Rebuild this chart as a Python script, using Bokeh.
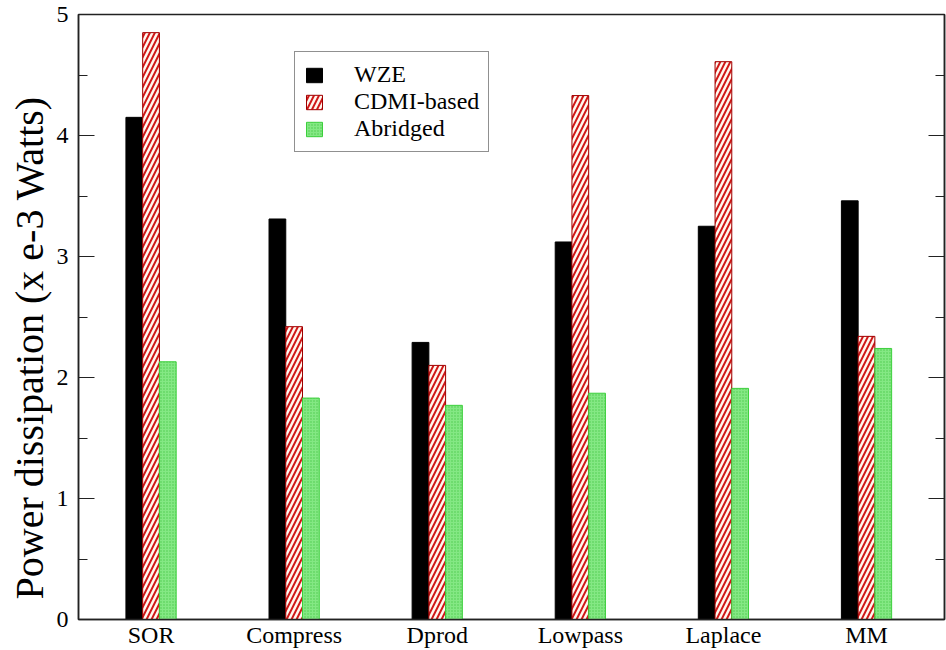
from bokeh.plotting import figure
from bokeh.models import (Range1d, SingleIntervalTicker, FixedTicker, LinearAxis,
                          ColumnDataSource, Title)
from bokeh.transform import dodge
from bokeh.embed import file_html
from bokeh.resources import INLINE

categories = ["SOR", "Compress", "Dprod", "Lowpass", "Laplace", "MM"]
wze = [4.15, 3.31, 2.29, 3.12, 3.25, 3.46]
cdmi = [4.85, 2.42, 2.10, 4.33, 4.61, 2.34]
abridged = [2.13, 1.83, 1.77, 1.87, 1.91, 2.24]
positions = list(range(len(categories)))
y_ticks = [0, 1, 2, 3, 4, 5]

FONT = "Liberation Serif"

src = ColumnDataSource(dict(x=positions, wze=wze, cdmi=cdmi, abridged=abridged))

p = figure(width=946, height=650, x_range=Range1d(-0.507, 5.545), y_range=Range1d(0, 5),
           output_backend="svg", toolbar_location=None,
           min_border_left=78, min_border_right=2, min_border_top=14, min_border_bottom=30)

bw = 0.117
p.vbar(x=dodge("x", -bw, range=p.x_range), top="wze", width=bw, source=src,
       fill_color="black", line_color="black", legend_label="WZE")
p.vbar(x=dodge("x", 0, range=p.x_range), top="cdmi", width=bw, source=src,
       fill_color="#d01818", line_color="#a00000", line_width=1,
       hatch_pattern="right_diagonal_line", hatch_color="#fff8f0", hatch_scale=10,
       hatch_weight=2.5, legend_label="CDMI-based")
p.vbar(x=dodge("x", bw, range=p.x_range), top="abridged", width=bw, source=src,
       fill_color="#84e884", line_color="#3ccf3c", line_width=1,
       hatch_pattern="dot", hatch_color="#4cc94c", hatch_scale=3, hatch_weight=1,
       legend_label="Abridged")

p.xgrid.visible = False
p.ygrid.visible = False
p.outline_line_color = "#222222"
p.outline_line_width = 1.5
p.background_fill_color = "white"
p.border_fill_color = "white"

xa = p.xaxis[0]
xa.ticker = FixedTicker(ticks=positions)
xa.major_label_overrides = {i: c for i, c in enumerate(categories)}
xa.major_tick_in = 0
xa.major_tick_out = 0
xa.minor_tick_in = 0
xa.minor_tick_out = 0
xa.major_label_standoff = 2
xa.major_label_text_font = FONT
xa.major_label_text_font_size = "24px"
xa.major_label_text_color = "black"
xa.axis_line_color = "#222222"
xa.axis_line_width = 1.5

ya = p.yaxis[0]
ya.ticker = SingleIntervalTicker(interval=1, num_minor_ticks=2)
ya.major_tick_in = 16
ya.major_tick_out = 0
ya.minor_tick_in = 9
ya.minor_tick_out = 0
ya.major_tick_line_color = "#222222"
ya.minor_tick_line_color = "#222222"
ya.major_label_standoff = 10
ya.major_label_text_font = FONT
ya.major_label_text_font_size = "24px"
ya.major_label_text_color = "black"
ya.axis_line_color = "#222222"
ya.axis_line_width = 1.5

ylab = Title(text="Power dissipation (x e-3 Watts)", align="left", offset=20,
             text_font=FONT, text_font_size="40px", text_font_style="normal",
             text_color="black", standoff=4)
p.add_layout(ylab, "left")

ra = LinearAxis(ticker=SingleIntervalTicker(interval=1, num_minor_ticks=2),
                major_label_overrides={t: "" for t in y_ticks},
                major_label_text_font_size="10px", major_label_standoff=0,
                major_tick_in=16, major_tick_out=0, minor_tick_in=9, minor_tick_out=0,
                major_tick_line_color="#222222", minor_tick_line_color="#222222",
                axis_line_color="#222222", axis_line_width=1.5)
p.add_layout(ra, "right")

lg = p.legend[0]
lg.location = (216, 467)
lg.border_line_color = "#222222"
lg.border_line_width = 1.5
lg.background_fill_color = "white"
lg.background_fill_alpha = 1
lg.label_text_font = FONT
lg.label_text_font_size = "24px"
lg.label_text_color = "black"
lg.glyph_width = 20
lg.glyph_height = 18
lg.label_standoff = 30
lg.label_height = 22
lg.padding = 9
lg.spacing = 0
lg.margin = 0

open("out.html", "w").write(file_html(p, INLINE))
